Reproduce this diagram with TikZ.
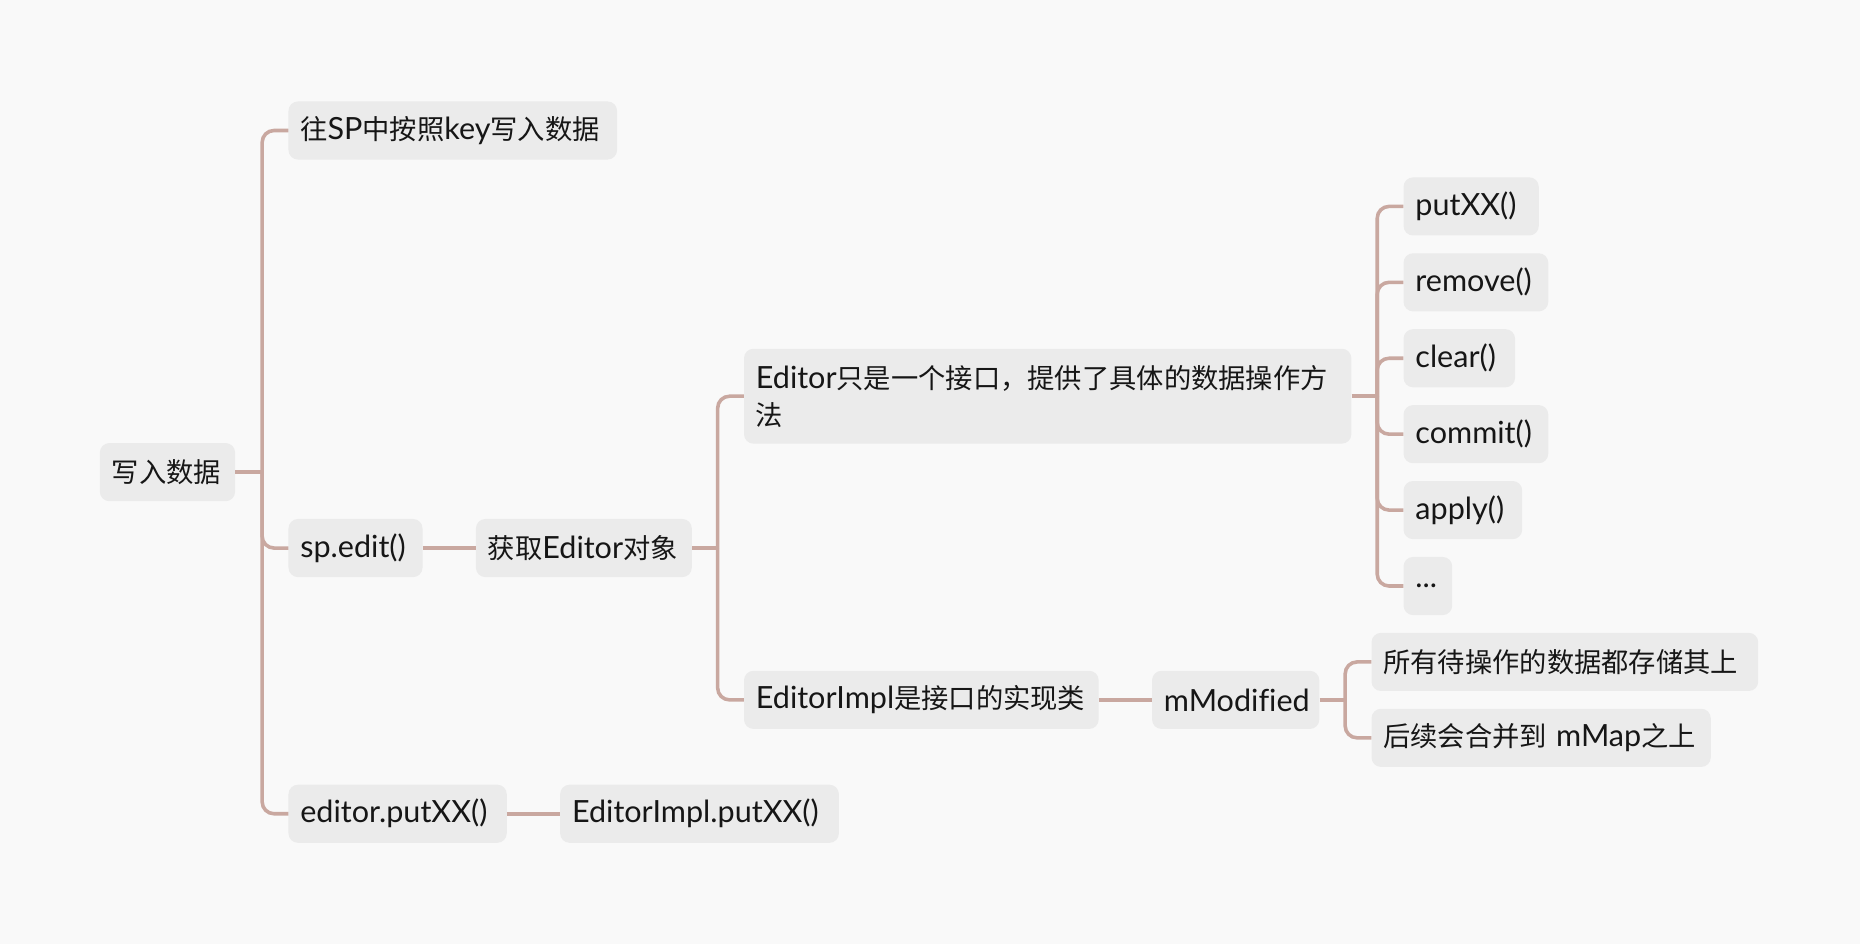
\documentclass[tikz,border=0pt]{standalone}
\usepackage{fontspec}
\setmainfont{Noto Sans CJK SC}
\newfontfamily\latf[Scale=1.12,Ligatures=NoCommon]{Lato}
\newcommand\lt[1]{{\latf #1}}
\definecolor{bgcol}{RGB}{249,249,249}
\definecolor{boxfill}{RGB}{235,235,235}
\definecolor{linecol}{RGB}{201,168,160}
\definecolor{textcol}{RGB}{22,22,22}
\tikzset{
  box/.style={fill=boxfill, rounded corners=8pt, inner xsep=10pt, inner ysep=0pt,
    minimum height=49pt, anchor=west, align=left, text=textcol,
    font=\fontsize{23}{31}\selectfont},
  conn/.style={draw=linecol, line width=3pt, rounded corners=10pt},
  stub/.style={draw=linecol, line width=3pt}
}
\begin{document}
\begin{tikzpicture}[x=1pt,y=-1pt]
\fill[bgcol] (0,0) rectangle (1568,796);
\useasboundingbox (0,0) rectangle (1568,796);

\node[box, text width=94pt] (root) at (84,398) {写入数据};
\node[box, text width=257pt] (n1) at (243,110) {往\lt{SP}中按照\lt{key}写入数据};
\node[box, text width=93pt] (sp) at (243,462) {\lt{sp.edit()}};
\node[box, text width=164pt] (ep) at (243,686) {\lt{editor.putXX()}};
\node[box, text width=162pt] (get) at (401,462) {获取\lt{Editor}对象};
\node[box, text width=215pt] (impl) at (472,686) {\lt{EditorImpl.putXX()}};
\node[box, text width=492pt, minimum height=80pt] (ed) at (627,334) {\lt{Editor}只是一个接口，提供了具体的数据操作方\\法};
\node[box, text width=279pt] (ei) at (627,590) {\lt{EditorImpl}是接口的实现类};
\node[box, text width=121pt] (mm) at (971,590) {\lt{mModified}};
\node[box, text width=94pt] (put) at (1183,174) {\lt{putXX()}};
\node[box, text width=102pt] (rem) at (1183,238) {\lt{remove()}};
\node[box, text width=74pt] (clr) at (1183,302) {\lt{clear()}};
\node[box, text width=102pt] (com) at (1183,366) {\lt{commit()}};
\node[box, text width=80pt] (app) at (1183,430) {\lt{apply()}};
\node[box, text width=21pt] (dots) at (1183,494) {\lt{...}};
\node[box, text width=306pt] (s1) at (1156,558) {所有待操作的数据都存储其上};
\node[box, text width=266pt] (s2) at (1156,622) {后续会合并到\lt{ mMap}之上};

\coordinate (j0) at (221,398);
\coordinate (j1) at (605,462);
\coordinate (j2) at (1161,334);
\coordinate (j3) at (1134,590);

\draw[stub] (root.east) -- (j0);
\foreach \c in {n1,sp,ep} \draw[conn] (j0) |- (\c.west);
\draw[stub] (sp.east) -- (get.west);
\draw[stub] (ep.east) -- (impl.west);
\draw[stub] (get.east) -- (j1);
\foreach \c in {ed,ei} \draw[conn] (j1) |- (\c.west);
\draw[stub] (ed.east) -- (j2);
\foreach \c in {put,rem,clr,com,app,dots} \draw[conn] (j2) |- (\c.west);
\draw[stub] (ei.east) -- (mm.west);
\draw[stub] (mm.east) -- (j3);
\foreach \c in {s1,s2} \draw[conn] (j3) |- (\c.west);
\end{tikzpicture}
\end{document}
